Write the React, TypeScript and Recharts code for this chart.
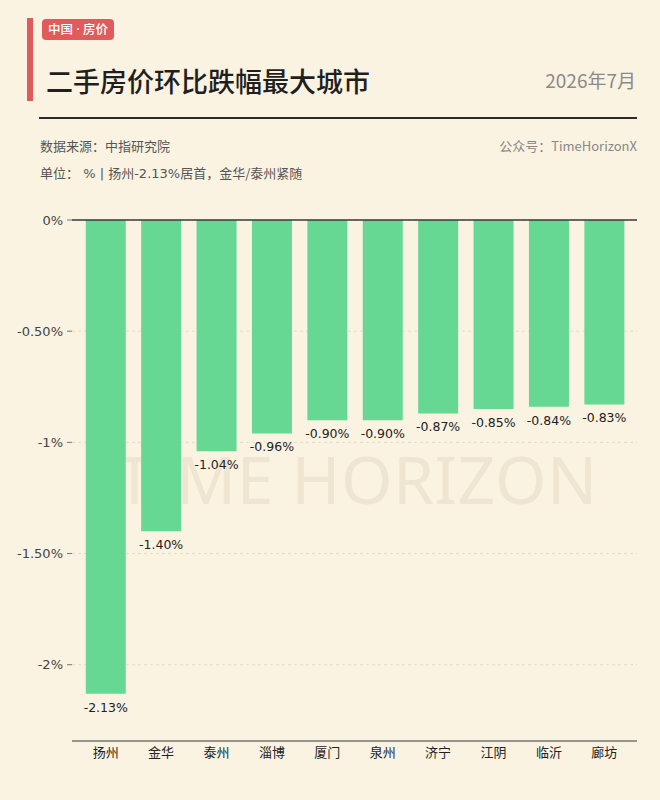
import React from 'react';
import { BarChart, Bar, XAxis, YAxis, CartesianGrid, ReferenceLine, LabelList } from 'recharts';

const cities = ['扬州', '金华', '泰州', '淄博', '厦门', '泉州', '济宁', '江阴', '临沂', '廊坊'];
const changes = [-2.13, -1.40, -1.04, -0.96, -0.90, -0.90, -0.87, -0.85, -0.84, -0.83];
const yTicks = [0, -0.5, -1, -1.5, -2];
const yTickLabels = ['0%', '-0.50%', '-1%', '-1.50%', '-2%'];

const data = cities.map((city, i) => ({ city, value: changes[i] }));

const BG = '#FAF3E1';
const GREEN = '#66D894';
const RED = '#E05C5C';
const CJK = '"Noto Sans CJK SC", "Noto Sans", sans-serif';
const NUM = '"DejaVu Sans", "Noto Sans CJK SC", sans-serif';

const fmtTick = (v: number) => {
  const i = yTicks.indexOf(v);
  return i >= 0 ? yTickLabels[i] : `${v}%`;
};

const ValueLabel = (props: any) => {
  const { x, y, width, height, value } = props;
  const bottom = Math.max(Number(y), Number(y) + Number(height));
  return (
    <text
      x={Number(x) + Number(width) / 2}
      y={bottom + 6}
      dy="0.95em"
      textAnchor="middle"
      fill="#222"
      fontSize={12.5}
      fontFamily={NUM}
    >
      {`${Number(value).toFixed(2)}%`}
    </text>
  );
};

const numSpan = { fontFamily: NUM };

export default function App() {
  return (
    <div style={{ position: 'absolute', left: 0, top: 0, width: 660, height: 800, background: BG, overflow: 'hidden', fontFamily: CJK }}>
      <div style={{ position: 'absolute', left: 27, top: 18, width: 6, height: 83, background: RED }} />
      <div style={{ position: 'absolute', left: 42, top: 19, width: 72, height: 21, background: RED, borderRadius: 4, color: '#fff', fontSize: 12.5, lineHeight: '21px', textAlign: 'center', fontWeight: 500, fontFamily: '"Noto Sans", "Noto Sans CJK SC", sans-serif' }}>中国 · 房价</div>
      <div style={{ position: 'absolute', left: 46, top: 62, fontSize: 27, lineHeight: '38px', color: '#1f1f1f', fontWeight: 500 }}>二手房价环比跌幅最大城市</div>
      <div style={{ position: 'absolute', right: 24, top: 66, fontSize: 19, lineHeight: '28px', color: '#8a8a8a' }}>2026年7月</div>
      <div style={{ position: 'absolute', left: 39, top: 117, width: 598, height: 2, background: '#2a2a2a' }} />
      <div style={{ position: 'absolute', left: 40, top: 136, fontSize: 13, lineHeight: '20px', color: '#555' }}>数据来源：中指研究院</div>
      <div style={{ position: 'absolute', right: 23, top: 136, fontSize: 13, lineHeight: '20px', color: '#888' }}>公众号：TimeHorizonX</div>
      <div style={{ position: 'absolute', left: 40, top: 163, fontSize: 13, lineHeight: '20px', color: '#555', whiteSpace: 'pre' }}>
        单位：<span style={numSpan}>{' % | '}</span>扬州<span style={numSpan}>-2.13%</span>居首，金华/泰州紧随
      </div>
      <div style={{ position: 'absolute', left: 0, width: 714, top: 433, textAlign: 'center', fontSize: 66, lineHeight: '90px', color: '#EEE5D2', fontFamily: '"Noto Sans", sans-serif', letterSpacing: 0.5 }}>TIME HORIZON</div>
      <div style={{ position: 'absolute', left: 0, top: 0 }}>
        <BarChart width={660} height={800} data={data} margin={{ top: 220, right: 23, bottom: 19, left: 12 }} barCategoryGap="14%">
          <CartesianGrid vertical={false} stroke="#E6DCC6" strokeDasharray="3 3" />
          <XAxis
            dataKey="city"
            axisLine={{ stroke: '#9a958c', strokeWidth: 2 }}
            tickLine={false}
            tickSize={0}
            tickMargin={7}
            height={40}
            padding={{ left: 6, right: 5 }}
            interval={0}
            tick={{ fill: '#222', fontSize: 13, fontFamily: CJK }}
          />
          <YAxis
            domain={[-2.343, 0]}
            ticks={yTicks}
            tickFormatter={fmtTick}
            axisLine={false}
            tickLine={{ stroke: '#777' }}
            tickSize={5}
            tickMargin={4}
            width={60}
            tick={{ fill: '#444', fontSize: 13, fontFamily: NUM }}
            allowDataOverflow
          />
          <ReferenceLine y={0} stroke="#3a3a3a" strokeWidth={1.5} />
          <Bar dataKey="value" fill={GREEN} isAnimationActive={false}>
            <LabelList dataKey="value" content={ValueLabel} />
          </Bar>
        </BarChart>
      </div>
    </div>
  );
}
